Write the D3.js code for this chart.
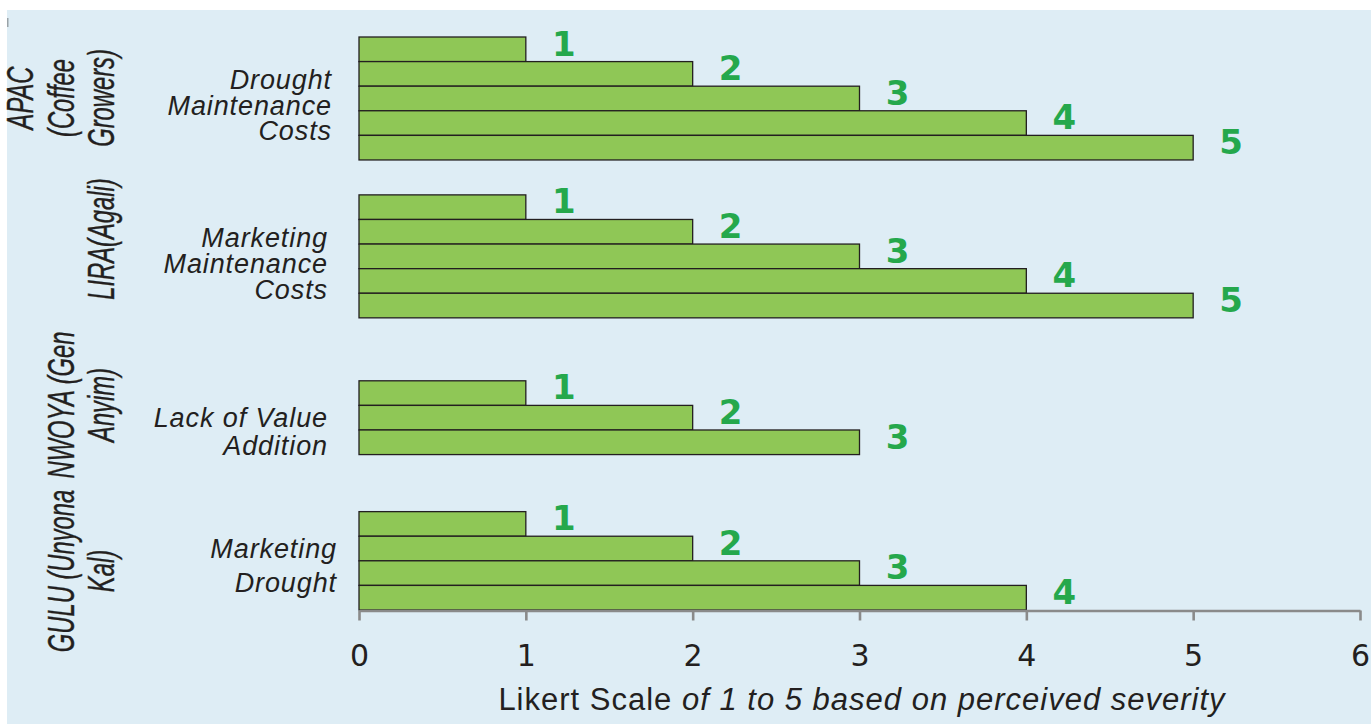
<!DOCTYPE html>
<html>
<head>
<meta charset="utf-8">
<script src="https://cdn.jsdelivr.net/npm/d3@7"></script>
<style>
  html, body { margin: 0; padding: 0; background: #ffffff; }
  svg { display: block; }
</style>
</head>
<body>
<div id="chart"></div>
<script>
// data
const groupNames = [
    ['APAC', '(Coffee', 'Growers)'],
    ['LIRA(Agali)'],
    ['NWOYA (Gen', 'Anyim)'],
    ['GULU (Unyona', 'Kal)']
];
const categoryNames = [
    ['Drought', 'Maintenance', 'Costs'],
    ['Marketing', 'Maintenance', 'Costs'],
    ['Lack of Value', 'Addition'],
    ['Marketing', 'Drought']
];
const groupValues = [
    [1, 2, 3, 4, 5],
    [1, 2, 3, 4, 5],
    [1, 2, 3],
    [1, 2, 3, 4]
];
const xTicks = [0, 1, 2, 3, 4, 5, 6];
const axisTitleUpright = 'Likert Scale ';
const axisTitleItalic = 'of 1 to 5 based on perceived severity';

// layout
const width = 1371;
const height = 724;
const groupStartRow = [0, 6.42, 13.98, 19.3];
const groupLabelCenter = [98, 239, 405, 571];
const catLabel = [
    { dy: 52, lh: 25.5, x: 332 },
    { dy: 52, lh: 26, x: 328 },
    { dy: 46, lh: 28, x: 328 },
    { dy: 46, lh: 34, x: 337 }
];

const svg = d3.select('#chart')
    .append('svg')
    .attr('width', width)
    .attr('height', height);

svg.append('rect')
    .attr('x', 7)
    .attr('y', 10)
    .attr('width', width - 7)
    .attr('height', height - 10)
    .attr('fill', '#deedf5');

svg.append('rect')
    .attr('x', 7)
    .attr('y', 18)
    .attr('width', 1.5)
    .attr('height', 9)
    .attr('fill', '#9aa3a8');

const xScale = d3.scaleLinear()
    .domain([0, 6])
    .range([359, 1360]);

const yScale = d3.scaleLinear()
    .domain([0, 23.3])
    .range([37, 610]);

// flatten rows
const rows = [];
groupValues.forEach((vals, g) => {
    vals.forEach((v, i) => {
        rows.push({ g, i, value: v, slot: groupStartRow[g] + i });
    });
});

const bars = svg.append('g').classed('bars', true);

bars.selectAll('rect')
    .data(rows)
    .enter()
    .append('rect')
    .attr('x', xScale(0))
    .attr('y', d => yScale(d.slot))
    .attr('width', d => xScale(d.value) - xScale(0))
    .attr('height', yScale(1) - yScale(0))
    .attr('fill', '#8fc756')
    .attr('stroke', '#231f20')
    .attr('stroke-width', 1.3);

bars.selectAll('text')
    .data(rows)
    .enter()
    .append('text')
    .attr('x', d => xScale(d.value) + 38)
    .attr('y', d => yScale(d.slot + 1) - 6)
    .attr('text-anchor', 'middle')
    .attr('fill', '#25a84c')
    .style('font-family', '"DejaVu Sans", sans-serif')
    .style('font-weight', 'bold')
    .style('font-size', '34px')
    .text(d => d.value);

// x axis
const xAxis = d3.axisBottom(xScale)
    .tickValues(xTicks)
    .tickSize(10)
    .tickSizeOuter(0)
    .tickPadding(24)
    .tickFormat(d3.format('d'));

const axisG = svg.append('g')
    .classed('x-axis', true)
    .attr('transform', 'translate(0, 610.5)')
    .call(xAxis);

axisG.select('.domain')
    .attr('stroke', '#8a8a8a')
    .attr('stroke-width', 2.6);

axisG.selectAll('.tick line')
    .attr('stroke', '#8a8a8a')
    .attr('stroke-width', 2.6);

axisG.selectAll('.tick text')
    .attr('fill', '#231f20')
    .style('font-family', '"DejaVu Sans", sans-serif')
    .style('font-size', '30px');

const title = svg.append('text')
    .attr('x', 862)
    .attr('y', 710)
    .attr('text-anchor', 'middle')
    .attr('fill', '#231f20')
    .style('font-family', '"Liberation Sans", Arial, sans-serif')
    .style('font-size', '31px')
    .style('letter-spacing', '1px');

title.append('tspan').text(axisTitleUpright);
title.append('tspan').style('font-style', 'italic').text(axisTitleItalic);

// category labels next to bars
categoryNames.forEach((lines, g) => {
    const top = yScale(groupStartRow[g]);
    const t = svg.append('text')
        .attr('text-anchor', 'end')
        .attr('fill', '#231f20')
        .style('font-family', '"Liberation Sans", Arial, sans-serif')
        .style('font-style', 'italic')
        .style('font-size', '27px')
        .style('letter-spacing', '0.9px');
    lines.forEach((line, k) => {
        t.append('tspan')
            .attr('x', catLabel[g].x)
            .attr('y', top + catLabel[g].dy + k * catLabel[g].lh)
            .text(line);
    });
});

// rotated group labels
groupNames.forEach((lines, g) => {
    const n = lines.length;
    lines.forEach((line, k) => {
        const bx = 114 - (n - 1 - k) * 40.5;
        svg.append('text')
            .attr('transform', `translate(${bx}, ${groupLabelCenter[g]}) rotate(-90) scale(0.66, 1)`)
            .attr('text-anchor', 'middle')
            .attr('fill', '#231f20')
            .attr('stroke', '#231f20')
            .attr('stroke-width', 0.4)
            .style('font-family', '"Liberation Sans", Arial, sans-serif')
            .style('font-style', 'italic')
            .style('font-size', '36px')
            .text(line);
    });
});
</script>
</body>
</html>
